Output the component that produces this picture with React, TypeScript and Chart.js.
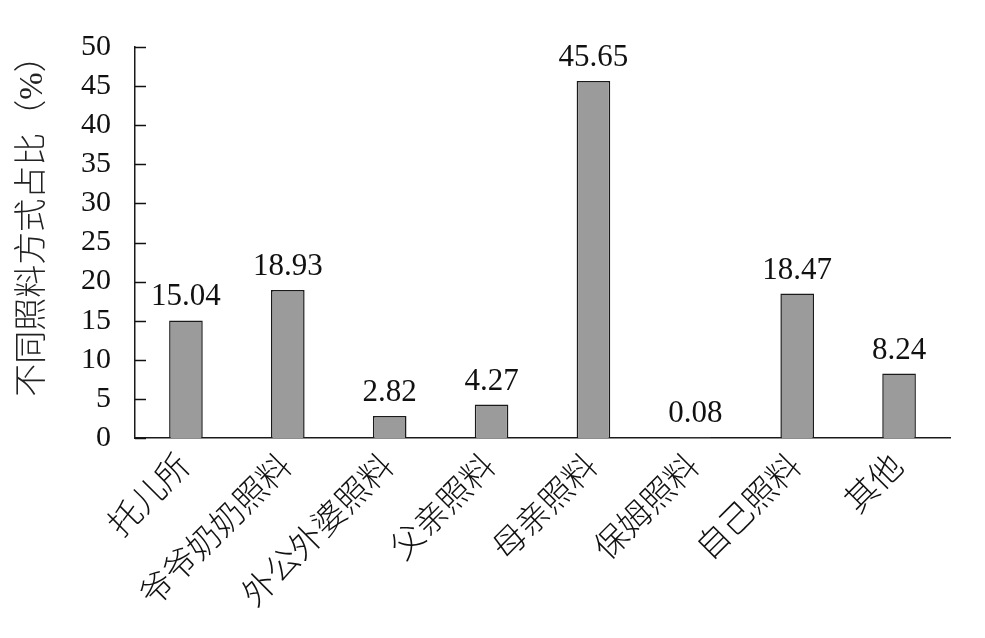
import React, { useEffect, useRef } from "react";
import { Chart, registerables } from "chart.js";

Chart.register(...registerables);

const categories = ["托儿所", "爷爷奶奶照料", "外公外婆照料", "父亲照料", "母亲照料", "保姆照料", "自己照料", "其他"];
const values = [15.04, 18.93, 2.82, 4.27, 45.65, 0.08, 18.47, 8.24];
const yMin = 0;
const yMax = 50;
const yStep = 5;
const yTitle = "不同照料方式占比（%）";

const FONT = '"Liberation Serif", "Noto Sans CJK SC", serif';

const overlay = {
  id: "overlay",
  afterDatasetsDraw(chart: any) {
    const ctx = chart.ctx;
    const meta = chart.getDatasetMeta(0);
    ctx.save();
    ctx.font = `31px ${FONT}`;
    ctx.fillStyle = "#111";
    ctx.textAlign = "center";
    ctx.textBaseline = "alphabetic";
    meta.data.forEach((bar: any, i: number) => {
      ctx.fillText(values[i].toFixed(2), bar.x, bar.y - 15);
    });
    const y = chart.scales.y;
    ctx.strokeStyle = "#111";
    ctx.lineWidth = 1.5;
    y.ticks.forEach((t: any) => {
      const py = Math.round(y.getPixelForValue(t.value)) + 0.5;
      ctx.beginPath();
      ctx.moveTo(y.right, py);
      ctx.lineTo(y.right + 11, py);
      ctx.stroke();
    });
    // y-axis title
    ctx.translate(33, 218);
    ctx.rotate(-Math.PI / 2);
    ctx.font = `300 33px ${FONT}`;
    ctx.fillStyle = "#222";
    ctx.textAlign = "center";
    ctx.textBaseline = "middle";
    ctx.fillText(yTitle, 0, 0);
    ctx.restore();
  },
};

export default function App() {
  const ref = useRef<HTMLCanvasElement | null>(null);
  useEffect(() => {
    if (!ref.current) return;
    const chart = new Chart(ref.current, {
      type: "bar",
      data: {
        labels: categories,
        datasets: [
          {
            data: values,
            backgroundColor: "#9b9b9b",
            borderColor: "#1a1a1a",
            borderWidth: 1.5,
            categoryPercentage: 1,
            barPercentage: 0.33,
          },
        ],
      },
      options: {
        responsive: false,
        animation: false,
        layout: { padding: { left: 0, top: 47, right: 35, bottom: 0 } },
        plugins: { legend: { display: false }, tooltip: { enabled: false } },
        scales: {
          x: {
            grid: { display: false },
            border: { display: true, color: "#1a1a1a", width: 1.5 },
            ticks: {
              minRotation: 45,
              maxRotation: 45,
              padding: 2,
              color: "#111",
              font: { family: FONT, size: 33, weight: "300" },
            },
            afterFit: (s: any) => {
              s.height = 200;
            },
          },
          y: {
            min: yMin,
            max: yMax,
            grid: { display: false, drawTicks: false },
            border: { display: true, color: "#1a1a1a", width: 1.5 },
            ticks: {
              stepSize: yStep,
              autoSkip: false,
              padding: 24,
              color: "#111",
              font: { family: FONT, size: 30 },
            },
            afterFit: (s: any) => {
              s.width = 135;
            },
          },
        },
      },
      plugins: [overlay],
    });
    return () => chart.destroy();
  }, []);
  return (
    <div style={{ position: "absolute", left: 0, top: 0, width: 985, height: 638, background: "#fff" }}>
      <canvas ref={ref} width={985} height={638} style={{ display: "block" }} />
    </div>
  );
}
